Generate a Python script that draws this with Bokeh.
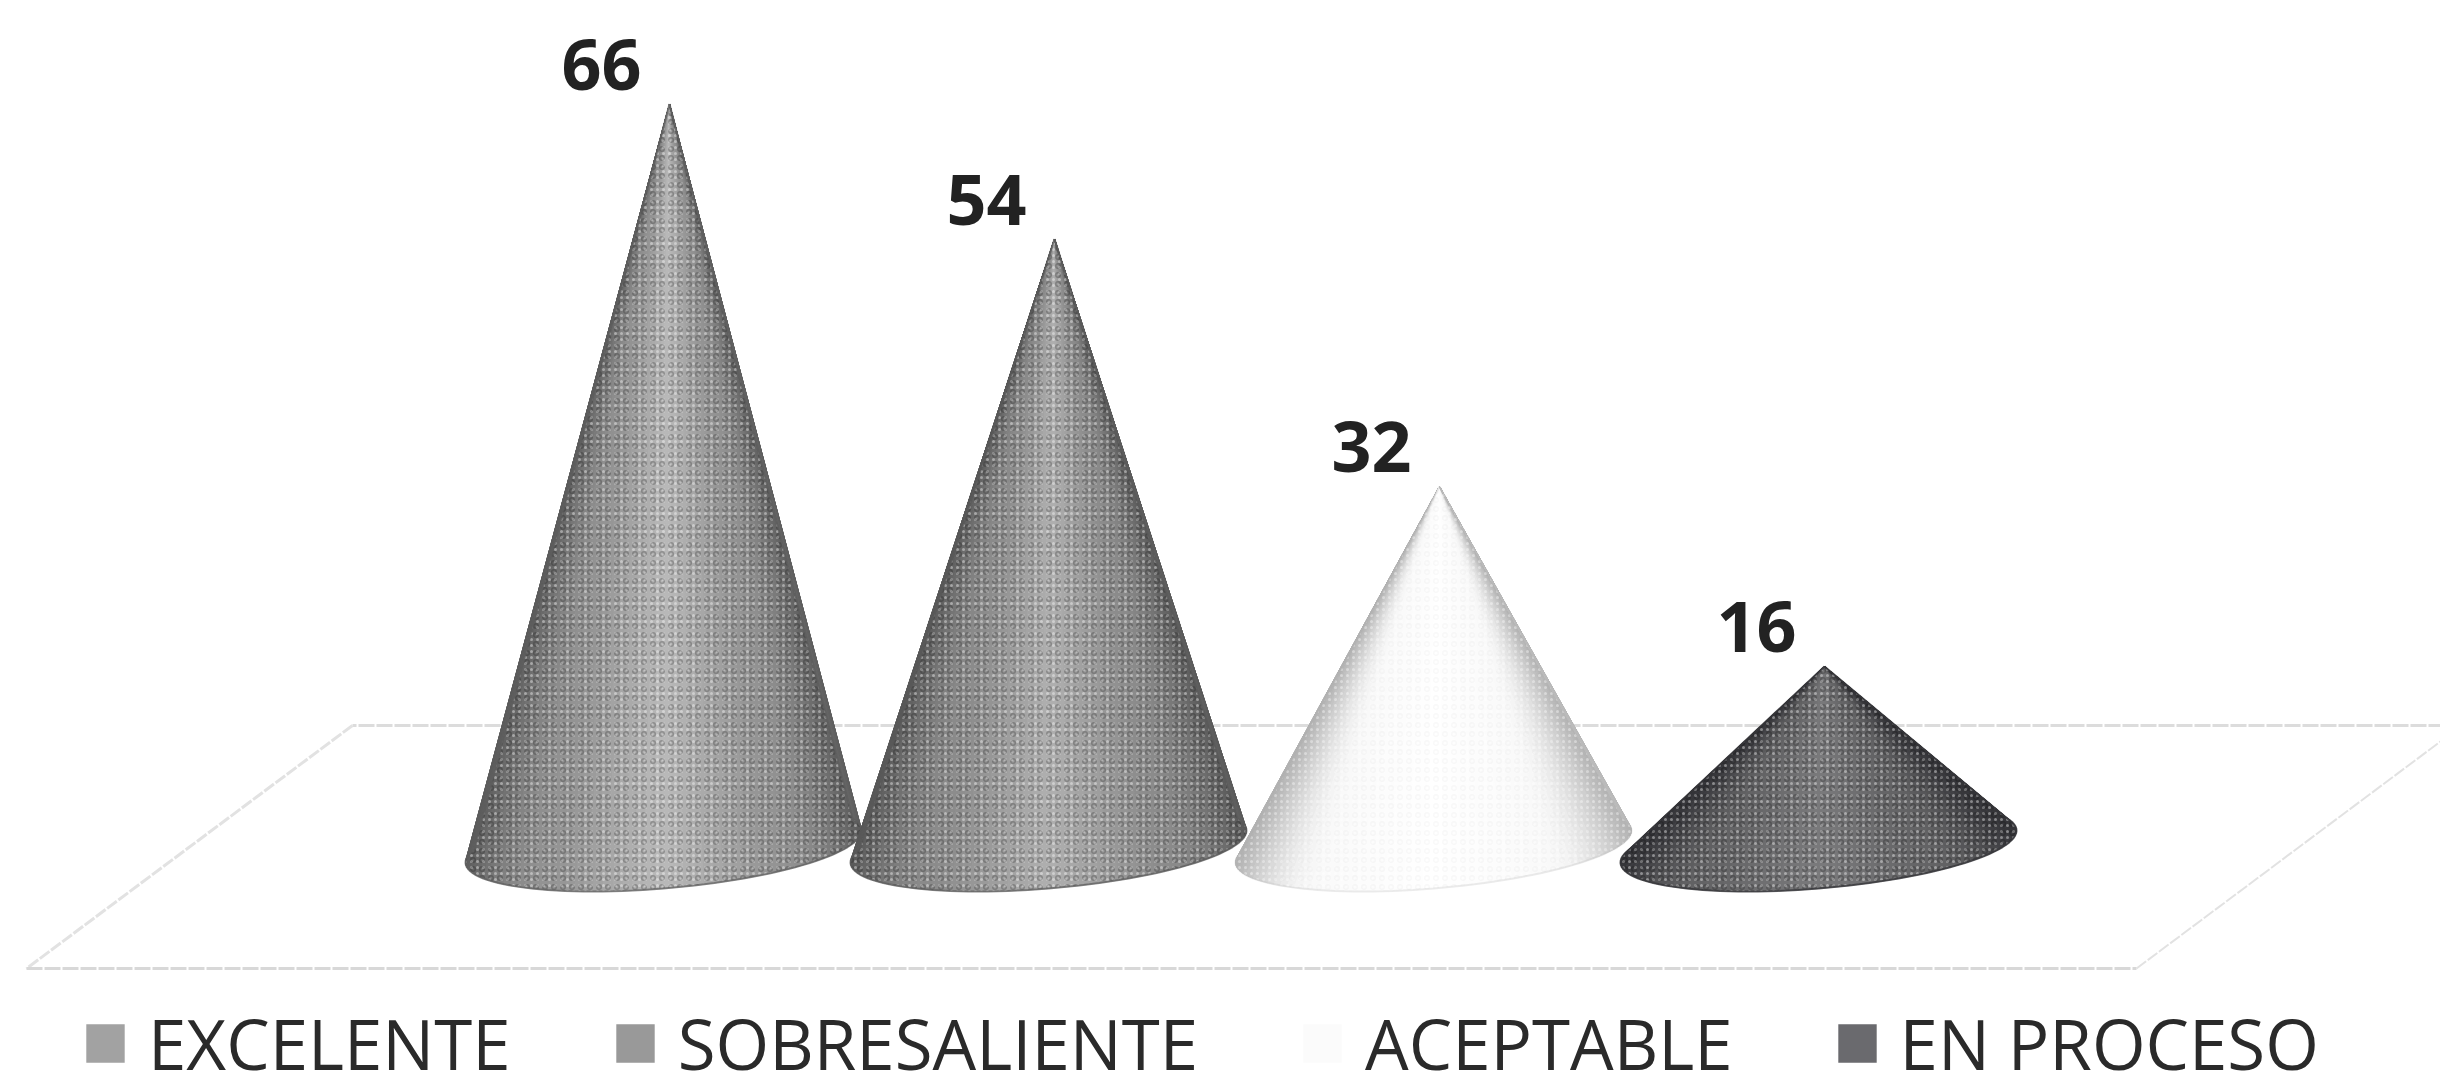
import numpy as np
from bokeh.embed import file_html
from bokeh.resources import INLINE
from bokeh.plotting import figure
from bokeh.models import Range1d, Legend, LegendItem, ColumnDataSource
from bokeh.core.properties import value

# ---- data -------------------------------------------------------------
categories = ["EXCELENTE", "SOBRESALIENTE", "ACEPTABLE", "EN PROCESO"]
values = [66, 54, 32, 16]
tick_labels = ["66", "54", "32", "16"]
# (edge, middle, centre) shade of each cone, and its legend swatch
edge_shades = [(92, 92, 92), (88, 88, 88), (178, 178, 178), (52, 52, 56)]
mid_shades = [(148, 148, 148), (140, 140, 140), (250, 250, 250), (100, 100, 102)]
centre_shades = [(186, 186, 186), (176, 176, 176), (255, 255, 255), (122, 122, 124)]
outline_alpha = [0.7, 0.7, 0.25, 0.8]
swatches = ["#a2a2a2", "#999999", "#fbfbfb", "#6a6a6e"]

# ---- scale: one category = 385 px, one value unit = 11.25 px -----------
W, H = 2440, 1090
PX_X, PX_Y = 385.0, 11.25
X0, Y0 = 663.0, 846.0          # image position of category 0, value 0
xr = Range1d((0 - X0) / PX_X, (W - X0) / PX_X)
yr = Range1d((Y0 - H) / PX_Y, (Y0 - 0) / PX_Y)

p = figure(width=W, height=H, x_range=xr, y_range=yr, x_axis_type=None, y_axis_type=None,
           output_backend="svg", toolbar_location=None, min_border=0,
           background_fill_color="white", border_fill_color="white", outline_line_color=None)
p.xgrid.visible = False
p.ygrid.visible = False


def dx(px):
    return (px - X0) / PX_X


def dy(py):
    return (Y0 - py) / PX_Y


# ---- floor of the 3-D chart --------------------------------------------
p.line([dx(2444), dx(352)], [dy(725), dy(725)], line_color="#dcdcdc", line_width=3, line_dash="16 2")
p.line([dx(352), dx(26)], [dy(725), dy(968)], line_color="#e2e2e2", line_width=3, line_dash="12 2")
p.line([dx(26), dx(2136)], [dy(968), dy(968)], line_color="#d8d8d8", line_width=3, line_dash="16 2")
p.line([dx(2136), dx(2444)], [dy(968), dy(738)], line_color="#e2e2e2", line_width=2, line_dash="12 2")

# ---- cones ---------------------------------------------------------------
A, B, TILT, APEX_SHIFT = 198 / PX_X, 42 / PX_Y, 16 / PX_Y, 6 / PX_X
N = 72
ROUND = 0.3   # the base wraps a little past its widest points, for round corners


def mix(c0, c1, t):
    return tuple(int(round(a + (b - a) * t)) for a, b in zip(c0, c1))


def shade(i, u):
    # u = 0 in the middle of the cone, 1 on its silhouette
    if u < 0.55:
        c = mix(centre_shades[i], mid_shades[i], u / 0.55)
    else:
        c = mix(mid_shades[i], edge_shades[i], ((u - 0.55) / 0.45) ** 2)
    return "#%02x%02x%02x" % c


for i, v in enumerate(values):
    th = np.linspace(np.pi - ROUND, 2 * np.pi + ROUND, N + 1)
    bx = i + A * np.cos(th)
    by = B * np.sin(th) + TILT * np.cos(th)
    ax, ay = i + APEX_SHIFT, v
    xs, ys, cols = [], [], []
    for k in range(N):
        xs.append([ax, bx[k], bx[k + 1]])
        ys.append([ay, by[k], by[k + 1]])
        cols.append(shade(i, abs(np.cos((th[k] + th[k + 1]) / 2))))
    p.patches(xs, ys, fill_color=cols, line_color=cols, line_width=1)
    ox = [ax] + list(bx) + [ax]
    oy = [ay] + list(by) + [ay]
    # speckled print texture
    p.patch(ox, oy, fill_alpha=0, line_alpha=0, hatch_pattern="dot",
            hatch_color="#ffffff", hatch_alpha=0.4, hatch_scale=6, hatch_weight=1.5)
    p.patch(ox, oy, fill_alpha=0, line_alpha=0, hatch_pattern="ring",
            hatch_color="#000000" if i != 2 else "#cccccc", hatch_alpha=0.22 if i != 2 else 0.12,
            hatch_scale=9, hatch_weight=1.5)
    p.line(ox, oy, line_color=shade(i, 1.0), line_width=2, line_alpha=outline_alpha[i])

# ---- value labels --------------------------------------------------------
src = ColumnDataSource(dict(x=list(range(len(values))), y=values, t=tick_labels))
p.text("x", "y", text="t", source=src, x_offset=-62, y_offset=-40, text_align="center",
       text_baseline="middle", text_font=value("Open Sans"), text_font_size="70px",
       text_font_style="bold", text_color="#222222")

# ---- legend --------------------------------------------------------------
items = []
for k, (name, col) in enumerate(zip(categories, swatches)):
    # zero-width column: it only gives the legend its swatch colour
    r = p.quad(left=[k], right=[k], top=[values[k]], bottom=[0], fill_color=col, line_color=None)
    items.append(LegendItem(label=name, renderers=[r]))
legend = Legend(items=items, orientation="horizontal", location=(81, 0),
                label_text_font="Open Sans", label_text_font_size="69px", label_text_color="#2a2a2a",
                glyph_width=48, glyph_height=48, label_standoff=19, spacing=100,
                padding=0, margin=0, background_fill_alpha=0, border_line_color=None,
                label_height=70)
p.add_layout(legend, "center")

open("out.html", "w").write(file_html(p, INLINE))
